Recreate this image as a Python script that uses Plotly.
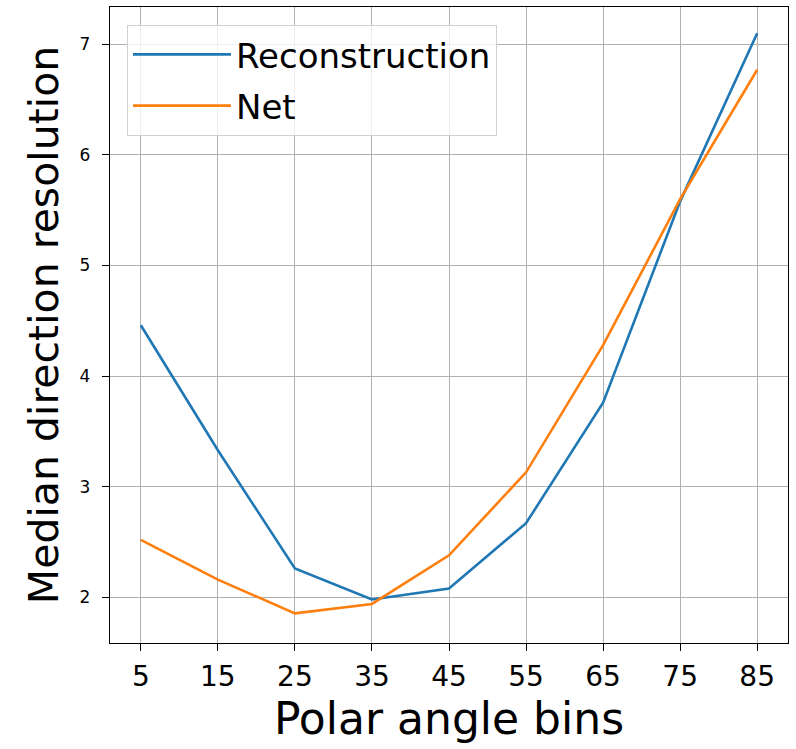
import plotly.graph_objects as go

angle_bins = [5, 15, 25, 35, 45, 55, 65, 75, 85]
reconstruction = [4.46, 3.33, 2.26, 1.98, 2.08, 2.67, 3.76, 5.58, 7.10]
net = [2.52, 2.16, 1.855, 1.94, 2.38, 3.13, 4.28, 5.60, 6.77]
y_ticks = [2, 3, 4, 5, 6, 7]

FONT = "DejaVu Sans"

fig = go.Figure()
fig.add_trace(go.Scatter(x=angle_bins, y=reconstruction, mode="lines",
                         name="Reconstruction", legendgroup="a",
                         line=dict(color="#1f77b4", width=2.6)))
fig.add_trace(go.Scatter(x=angle_bins, y=net, mode="lines", name="Net",
                         legendgroup="b",
                         line=dict(color="#ff7f0e", width=2.6)))

fig.update_layout(
    width=796, height=749,
    margin=dict(l=110, r=8, t=7, b=106),
    paper_bgcolor="white", plot_bgcolor="white",
    font=dict(family=FONT, color="black"),
    showlegend=True,
    legend=dict(
        x=0.025, y=0.972, xanchor="left", yanchor="top",
        font=dict(size=34, family=FONT, color="black"),
        bgcolor="rgba(255,255,255,0.8)",
        bordercolor="#d0d0d0", borderwidth=1,
        itemwidth=98, traceorder="grouped", tracegroupgap=4,
        entrywidth=282,
    ),
)
fig.update_xaxes(
    range=[1, 89],
    tickmode="array", tickvals=angle_bins,
    ticktext=[str(v) for v in angle_bins],
    tickfont=dict(size=28, family=FONT, color="black"),
    ticks="outside", ticklen=7, tickwidth=1.3, tickcolor="black",
    ticklabelstandoff=1,
    showline=True, linecolor="black", linewidth=1.3, mirror=True,
    showgrid=True, gridcolor="#b0b0b0", gridwidth=1.3,
    zeroline=False,
    title=dict(text="Polar angle bins", font=dict(size=44, family=FONT, color="black"),
               standoff=10),
)
fig.update_yaxes(
    range=[1.587, 7.337],
    tickmode="array", tickvals=y_ticks, ticktext=[str(v) for v in y_ticks],
    tickfont=dict(size=17, family=FONT, color="black"),
    ticks="outside", ticklen=7, tickwidth=1.3, tickcolor="black",
    ticklabelstandoff=8,
    showline=True, linecolor="black", linewidth=1.3, mirror=True,
    showgrid=True, gridcolor="#b0b0b0", gridwidth=1.3,
    zeroline=False,
    title=dict(text="Median direction resolution",
               font=dict(size=41, family=FONT, color="black"), standoff=8),
)

fig.write_html("out.html")
